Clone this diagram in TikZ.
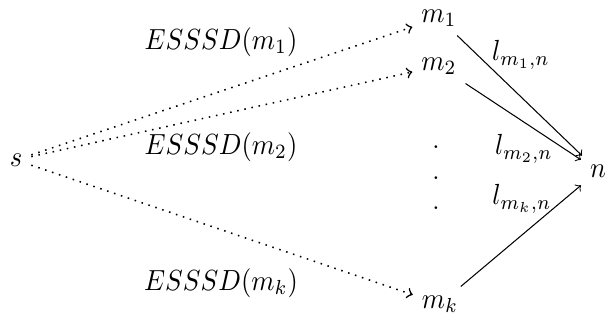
\documentclass[tikz,border=0pt]{standalone}
\usepackage{graphicx}
\newcommand{\vtxt}[1]{\scalebox{1.02}[1.12]{$#1$}}
\begin{document}
\begin{tikzpicture}[x=0.385pt,y=-0.385pt,
  lbl/.style={inner sep=0pt},
  vtx/.style={inner sep=3.3pt},
  dotarrow/.style={->,line width=0.6pt,dash pattern=on 0.6pt off 2.2pt},
  solarrow/.style={->,line width=0.4pt}]
\useasboundingbox (0,0) rectangle (606,323);
\node[vtx] (s) at (16,160) {\vtxt{s}};
\node[vtx] (m1) at (439,18) {\vtxt{m_1}};
\node[vtx] (m2) at (439,66) {\vtxt{m_2}};
\node[vtx] (mk) at (440,304) {\vtxt{m_k}};
\node[vtx] (n) at (598,171) {\vtxt{n}};
\node[lbl] (d1) at (436,147) {.};
\node[lbl] (d2) at (436,178) {.};
\node[lbl] (d3) at (436,208) {.};
\node[lbl] (e1) at (221,42) {\vtxt{ESSSD(m_1)}};
\node[lbl] (e2) at (221,147) {\vtxt{ESSSD(m_2)}};
\node[lbl] (ek) at (221,283) {\vtxt{ESSSD(m_k)}};
\node[lbl] (l1) at (521,55) {\vtxt{l_{m_1,n}}};
\node[lbl] (l2) at (524,149) {\vtxt{l_{m_2,n}}};
\node[lbl] (lk) at (522,199) {\vtxt{l_{m_k,n}}};
\draw[dotarrow] (s) -- (m1);
\draw[dotarrow] (s) -- (m2);
\draw[dotarrow] (s) -- (mk);
\draw[solarrow] (m1) -- (n);
\draw[solarrow] (m2) -- (n);
\draw[solarrow] (mk) -- (n);
\end{tikzpicture}
\end{document}
